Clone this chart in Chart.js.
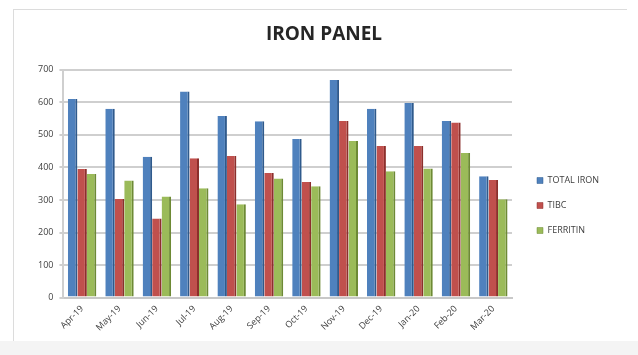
<!DOCTYPE html>
<html>
<head>
<meta charset="utf-8">
<script src="https://cdn.jsdelivr.net/npm/chart.js@4/dist/chart.umd.min.js"></script>
<style>
  html, body { margin: 0; padding: 0; background: #ffffff; }
  body { width: 638px; height: 355px; position: relative; overflow: hidden; }
  #frame {
    position: absolute; left: 13px; top: 9px; width: 613px; height: 331px;
    border-top: 1px solid #dcdcdc; border-left: 1px solid #dcdcdc;
    background: #ffffff;
  }
  #band { position: absolute; left: 0; top: 341px; width: 638px; height: 14px; background: #f4f4f4; }
</style>
</head>
<body>
<div id="frame"><canvas id="ironChart" width="613" height="331"></canvas></div>
<div id="band"></div>
<script>
// months on the x axis
var months = ['Apr-19', 'May-19', 'Jun-19', 'Jul-19', 'Aug-19', 'Sep-19',
              'Oct-19', 'Nov-19', 'Dec-19', 'Jan-20', 'Feb-20', 'Mar-20'];

// values
var totalIron = [610, 580, 433, 633, 558, 542, 487, 669, 580, 598, 543, 373];
var tibc      = [395, 303, 243, 428, 435, 383, 355, 543, 466, 466, 538, 361];
var ferritin  = [380, 360, 311, 336, 287, 366, 342, 481, 388, 397, 444, 302];

var yTicks = [0, 100, 200, 300, 400, 500, 600, 700];

// nudge the legend a bit to the right of where the layout puts it,
// and the title a little right to sit where the original one does
var layoutNudge = {
  id: 'layoutNudge',
  afterLayout: function (chart) {
    if (chart.legend) {
      chart.legend.left += 9;
      chart.legend.right += 9;
    }
    if (chart.titleBlock) {
      chart.titleBlock.left += 8;
      chart.titleBlock.right += 8;
    }
  }
};

document.addEventListener('DOMContentLoaded', function () {
  var ctx = document.getElementById('ironChart').getContext('2d');

  function series(label, values, fill, edge) {
    return {
      label: label,
      data: values,
      backgroundColor: fill,
      borderColor: edge,
      borderWidth: { top: 0, right: 2, bottom: 0, left: 0 },
      borderSkipped: false,
      categoryPercentage: 0.76,
      barPercentage: 1.0
    };
  }

  new Chart(ctx, {
    type: 'bar',
    data: {
      labels: months,
      datasets: [
        series('TOTAL IRON', totalIron, '#4f81bd', '#2f5a8c'),
        series('TIBC', tibc, '#c0504d', '#8c2f2c'),
        series('FERRITIN', ferritin, '#9bbb59', '#6d8a35')
      ]
    },
    plugins: [layoutNudge],
    options: {
      responsive: false,
      animation: false,
      layout: { padding: { left: 18, right: 27, top: 0, bottom: 2 } },
      plugins: {
        title: {
          display: true,
          text: 'IRON PANEL',
          color: '#262626',
          font: { family: 'Open Sans', size: 19, weight: 'bold' },
          padding: { top: 13, bottom: 24 }
        },
        legend: {
          position: 'right',
          align: 'center',
          title: { display: true, text: ' ', padding: { top: 50, bottom: 0 }, font: { size: 10 } },
          labels: {
            boxWidth: 6,
            boxHeight: 6,
            padding: 16,
            color: '#404040',
            font: { family: 'Open Sans', size: 9 }
          }
        },
        tooltip: { enabled: false }
      },
      scales: {
        x: {
          grid: { display: false, drawTicks: false },
          border: { color: '#c8c8c8', width: 2 },
          ticks: {
            color: '#404040',
            font: { family: 'Open Sans', size: 9 },
            minRotation: 45,
            maxRotation: 45,
            padding: 6
          }
        },
        y: {
          min: 0,
          max: 700,
          afterBuildTicks: function (axis) {
            axis.ticks = yTicks.map(function (v) { return { value: v }; });
          },
          grid: { color: '#cfcfcf', lineWidth: 2, tickLength: 4 },
          border: { color: '#cfcfcf', width: 2 },
          ticks: {
            color: '#404040',
            font: { family: 'Open Sans', size: 9 },
            padding: 6
          }
        }
      }
    }
  });
});
</script>
</body>
</html>
